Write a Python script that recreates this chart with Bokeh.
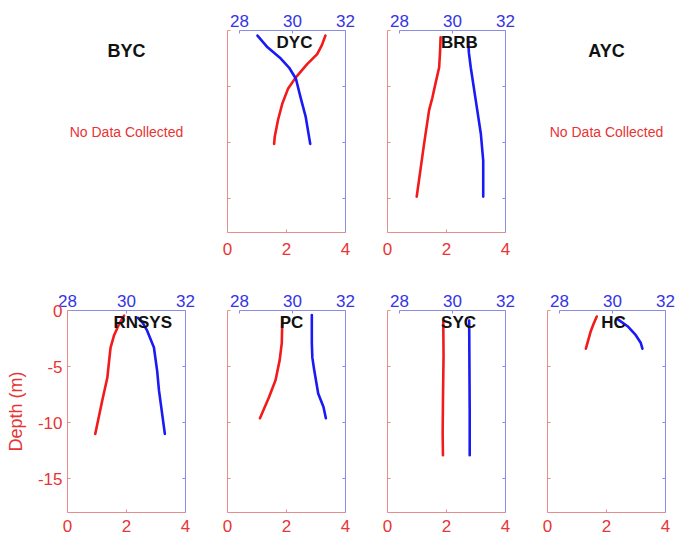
from bokeh.plotting import figure
from bokeh.models import Range1d, LinearAxis, Label, FixedTicker, CustomLabelingPolicy
from bokeh.layouts import row, column
from bokeh.embed import file_html
from bokeh.resources import INLINE

# ---------------- data ----------------
top_sites = ["BYC", "DYC", "BRB", "AYC"]
bottom_sites = ["RNSYS", "PC", "SYC", "HC"]
no_data_text = "No Data Collected"
depth_label = "Depth (m)"

depth_ticks = [0, -5, -10, -15]
depth_tick_labels = ["0", "-5", "-10", "-15"]
bottom_ticks = [0, 2, 4]
top_ticks = [28, 30, 32]

# red profiles (bottom axis 0-4) vs depth
dyc_red = [3.32, 3.20, 3.04, 2.70, 2.31, 2.05, 1.86, 1.71, 1.60, 1.58]
dyc_red_depth = [-0.45, -1.3, -2.1, -3.0, -4.2, -5.2, -6.5, -8.0, -9.5, -10.1]
brb_red = [1.80, 1.78, 1.75, 1.62, 1.52, 1.41, 1.24, 0.99]
brb_red_depth = [-0.6, -2.0, -3.3, -4.8, -6.0, -7.1, -10.1, -14.8]
rnsys_red = [1.92, 1.75, 1.58, 1.46, 1.41, 1.35, 1.18, 0.94]
rnsys_red_depth = [-0.45, -1.2, -2.2, -3.3, -4.5, -6.0, -8.0, -11.0]
pc_red = [1.86, 1.85, 1.84, 1.77, 1.63, 1.41, 1.10]
pc_red_depth = [-0.7, -1.8, -2.9, -4.4, -6.2, -7.7, -9.6]
syc_red = [1.89, 1.90, 1.88, 1.87, 1.88]
syc_red_depth = [-0.9, -4.0, -8.0, -11.0, -12.9]
hc_red = [1.67, 1.56, 1.46, 1.30]
hc_red_depth = [-0.54, -1.2, -1.9, -3.4]

# blue profiles (top axis 28-32) vs depth
dyc_blue = [28.68, 29.06, 29.56, 29.87, 30.13, 30.31, 30.50, 30.67]
dyc_blue_depth = [-0.45, -1.5, -2.5, -3.3, -4.3, -6.0, -7.7, -10.1]
brb_blue = [30.59, 30.62, 30.69, 30.88, 31.07, 31.16, 31.16]
brb_blue_depth = [-0.7, -2.0, -3.3, -6.25, -9.2, -11.6, -14.8]
rnsys_blue = [30.39, 30.55, 30.70, 30.93, 31.04, 31.10, 31.30]
rnsys_blue_depth = [-0.65, -1.1, -1.8, -3.3, -5.4, -7.1, -11.0]
pc_blue = [30.73, 30.73, 30.75, 30.82, 30.97, 31.17, 31.26]
pc_blue_depth = [-0.4, -2.9, -4.2, -5.3, -7.4, -8.6, -9.6]
syc_blue = [30.63, 30.64, 30.65, 30.65]
syc_blue_depth = [-0.9, -5.0, -9.0, -12.9]
hc_blue = [30.19, 30.57, 30.88, 31.07, 31.13]
hc_blue_depth = [-0.77, -1.4, -2.2, -2.9, -3.4]

# ---------------- style ----------------
FONT = "Liberation Sans"
RED_LINE = "#f21a1a"
BLUE_LINE = "#1a1af5"
RED_AXIS = "#e88c8c"
BLUE_AXIS = "#8c8ce4"
RED_TEXT = "#e83434"
BLUE_TEXT = "#3434e4"
TICK_FONT = "17px"

NO_LABELS = CustomLabelingPolicy(
    code="const n = indices.size; for (let i = 0; i < n; i++) indices.unset(i); return indices")


def base_fig(width, height, left, right, top, bottom, temp_start):
    p = figure(width=width, height=height, output_backend="svg",
               toolbar_location=None, tools="",
               x_range=Range1d(0, 4), y_range=Range1d(-18, 0),
               min_border_left=left, min_border_right=right,
               min_border_top=top, min_border_bottom=bottom,
               x_axis_location=None, y_axis_location=None)
    p.extra_x_ranges = {"temp": Range1d(temp_start, 32)}
    p.outline_line_color = None
    p.grid.visible = False
    p.background_fill_color = "white"
    p.border_fill_color = "white"
    return p


def style_axis(ax, line_color, text_color, ticks, show_labels, standoff):
    ax.ticker = FixedTicker(ticks=ticks)
    ax.axis_line_color = line_color
    ax.axis_line_width = 1
    ax.major_tick_line_color = line_color
    ax.major_tick_in = 3
    ax.major_tick_out = 0
    ax.minor_tick_line_color = None
    ax.major_label_text_color = text_color
    ax.major_label_text_font = FONT
    ax.major_label_text_font_size = TICK_FONT
    ax.major_label_standoff = standoff
    if not show_labels:
        # labels are not drawn and take (almost) no room
        ax.major_label_policy = NO_LABELS
        ax.major_label_text_font_size = "1px"
        ax.major_label_standoff = 0


def data_panel(name, width, height, left, right, top, bottom, bstand,
               red_x, red_d, blue_t, blue_d, title_x, temp_start, ylabels):
    p = base_fig(width, height, left, right, top, bottom, temp_start)

    yl = LinearAxis()
    style_axis(yl, RED_AXIS, RED_TEXT, depth_ticks, ylabels, 5)
    if ylabels:
        yl.major_label_overrides = dict(zip(depth_ticks, depth_tick_labels))
        yl.axis_label = depth_label
        yl.axis_label_text_color = RED_TEXT
        yl.axis_label_text_font = FONT
        yl.axis_label_text_font_size = "18px"
        yl.axis_label_text_font_style = "normal"
        yl.axis_label_standoff = 9
    p.add_layout(yl, "left")

    yr = LinearAxis()
    style_axis(yr, BLUE_AXIS, BLUE_TEXT, depth_ticks, False, 0)
    p.add_layout(yr, "right")

    xb = LinearAxis()
    style_axis(xb, RED_AXIS, RED_TEXT, bottom_ticks, True, bstand)
    p.add_layout(xb, "below")

    xt = LinearAxis(x_range_name="temp", bounds=(28, 32))
    style_axis(xt, BLUE_AXIS, BLUE_TEXT, top_ticks, True, 4)
    p.add_layout(xt, "above")

    p.line(red_x, red_d, line_color=RED_LINE, line_width=2.6,
           line_join="round", line_cap="round")
    p.line(blue_t, blue_d, line_color=BLUE_LINE, line_width=2.6,
           line_join="round", line_cap="round", x_range_name="temp")

    p.add_layout(Label(x=title_x, y=-1.07, text=name, text_align="center",
                       text_baseline="alphabetic", text_font=FONT,
                       text_font_size="17px", text_font_style="bold",
                       text_color="#111111"))
    return p


def empty_panel(name, width, height, left, right, top, bottom):
    p = base_fig(width, height, left, right, top, bottom, 28)
    p.add_layout(Label(x=2, y=-1.8, text=name, text_align="center",
                       text_baseline="middle", text_font=FONT,
                       text_font_size="18px", text_font_style="bold",
                       text_color="#111111"))
    p.add_layout(Label(x=2, y=-9.05, text=no_data_text, text_align="center",
                       text_baseline="middle", text_font=FONT,
                       text_font_size="14px", text_color=RED_TEXT))
    # invisible glyph so the panel renders its frame
    p.line([0, 4], [0, 0], line_alpha=0)
    return p


# column geometry (width, left border, right border)
cols = [(206, 67, 21), (160, 21, 21), (160, 21, 21), (152, 21, 13)]
H1, T1, B1 = 272, 30, 40
H2, T2, B2 = 267, 38, 27
OFF = 27.55  # top axis starts slightly inside the frame

top_row = [
    empty_panel(top_sites[0], cols[0][0], H1, cols[0][1], cols[0][2], T1, B1),
    data_panel(top_sites[1], cols[1][0], H1, cols[1][1], cols[1][2], T1, B1, 10,
               dyc_red, dyc_red_depth, dyc_blue, dyc_blue_depth, 2.27, OFF, False),
    data_panel(top_sites[2], cols[2][0], H1, cols[2][1], cols[2][2], T1, B1, 10,
               brb_red, brb_red_depth, brb_blue, brb_blue_depth, 2.44, OFF, False),
    empty_panel(top_sites[3], cols[3][0], H1, cols[3][1], cols[3][2], T1, B1),
]
bottom_row = [
    data_panel(bottom_sites[0], cols[0][0], H2, cols[0][1], cols[0][2], T2, B2, 7,
               rnsys_red, rnsys_red_depth, rnsys_blue, rnsys_blue_depth, 2.55, 28, True),
    data_panel(bottom_sites[1], cols[1][0], H2, cols[1][1], cols[1][2], T2, B2, 7,
               pc_red, pc_red_depth, pc_blue, pc_blue_depth, 2.17, OFF, False),
    data_panel(bottom_sites[2], cols[2][0], H2, cols[2][1], cols[2][2], T2, B2, 7,
               syc_red, syc_red_depth, syc_blue, syc_blue_depth, 2.41, OFF, False),
    data_panel(bottom_sites[3], cols[3][0], H2, cols[3][1], cols[3][2], T2, B2, 7,
               hc_red, hc_red_depth, hc_blue, hc_blue_depth, 2.24, OFF, False),
]

layout = column(row(*top_row, spacing=0), row(*bottom_row, spacing=0), spacing=0)

with open("out.html", "w") as f:
    f.write(file_html(layout, INLINE))
